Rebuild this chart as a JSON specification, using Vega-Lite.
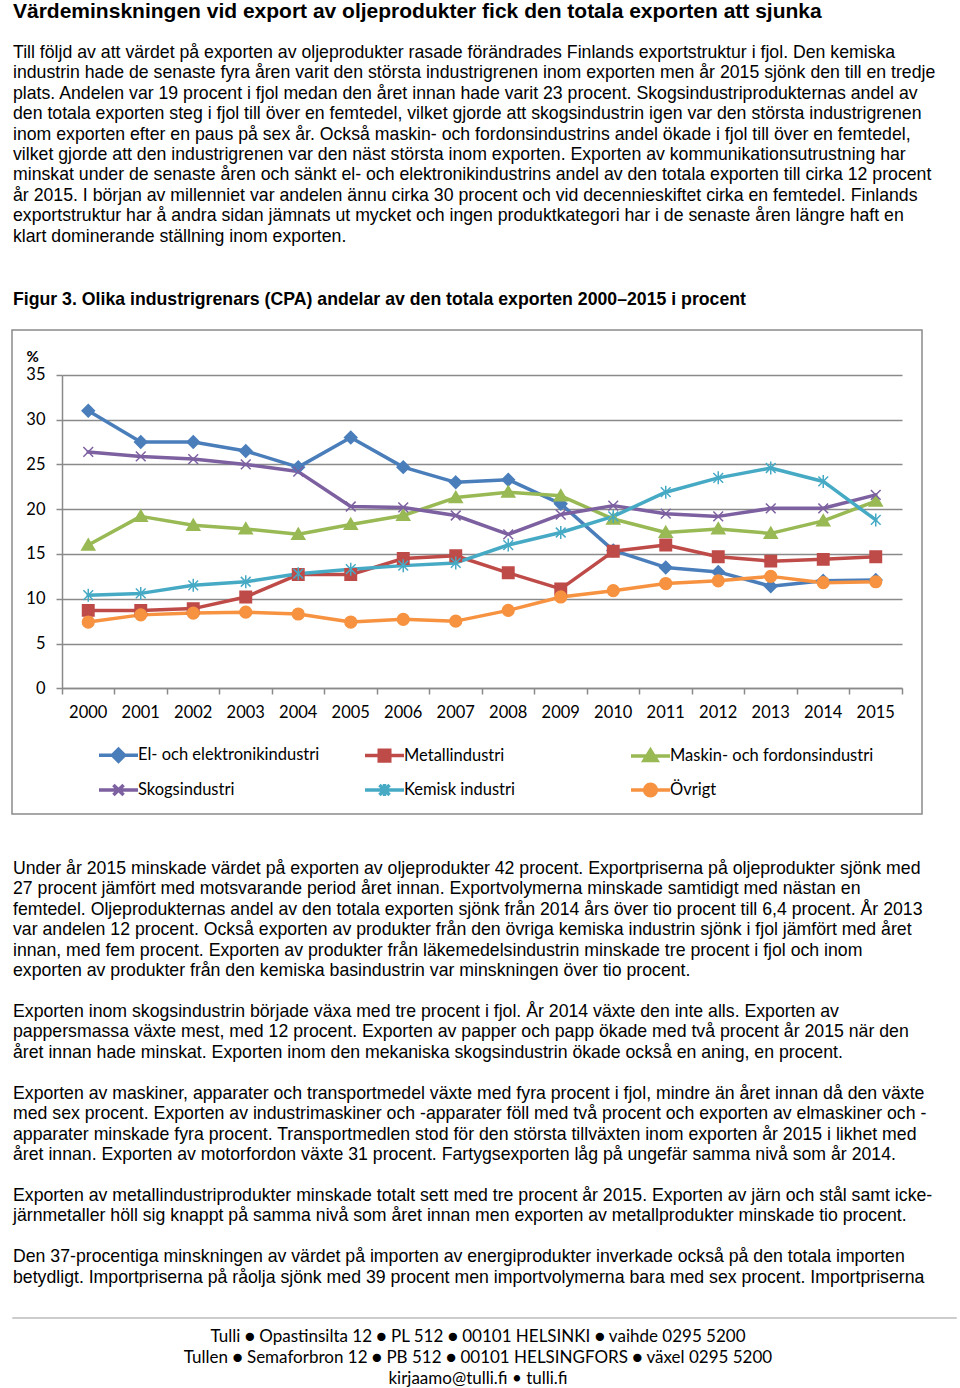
{
  "$schema": "https://vega.github.io/schema/vega-lite/v6.json",
  "background": "white",
  "padding": {"left": 11, "top": 0, "right": 0, "bottom": 0},
  "title": {
    "text": "Värdeminskningen vid export av oljeprodukter fick den totala exporten att sjunka",
    "subtitle": [
      "Till följd av att värdet på exporten av oljeprodukter rasade förändrades Finlands exportstruktur i fjol. Den kemiska",
      "industrin hade de senaste fyra åren varit den största industrigrenen inom exporten men år 2015 sjönk den till en tredje",
      "plats. Andelen var 19 procent i fjol medan den året innan hade varit 23 procent. Skogsindustriprodukternas andel av",
      "den totala exporten steg i fjol till över en femtedel, vilket gjorde att skogsindustrin igen var den största industrigrenen",
      "inom exporten efter en paus på sex år. Också maskin- och fordonsindustrins andel ökade i fjol till över en femtedel,",
      "vilket gjorde att den industrigrenen var den näst största inom exporten. Exporten av kommunikationsutrustning har",
      "minskat under de senaste åren och sänkt el- och elektronikindustrins andel av den totala exporten till cirka 12 procent",
      "år 2015. I början av millenniet var andelen ännu cirka 30 procent och vid decennieskiftet cirka en femtedel. Finlands",
      "exportstruktur har å andra sidan jämnats ut mycket och ingen produktkategori har i de senaste åren längre haft en",
      "klart dominerande ställning inom exporten."
    ],
    "anchor": "start",
    "frame": "group",
    "dx": 1,
    "font": "Liberation Sans",
    "fontSize": 21,
    "fontWeight": "bold",
    "color": "#000000",
    "subtitleFont": "Liberation Sans",
    "subtitleFontSize": 17.7,
    "subtitleFontWeight": "normal",
    "subtitleColor": "#000000",
    "subtitleLineHeight": 20.45,
    "subtitlePadding": 22,
    "offset": 45
  },
  "spacing": 44,
  "vconcat": [
    {
      "width": 910,
      "height": 484,
      "view": {"stroke": "#8a8a8a", "strokeWidth": 1.5},
      "title": {
        "text": "Figur 3. Olika industrigrenars (CPA) andelar av den totala exporten 2000–2015 i procent",
        "anchor": "start",
        "frame": "group",
        "dx": 1,
        "font": "Liberation Sans",
        "fontSize": 17.7,
        "fontWeight": "bold",
        "color": "#000000",
        "offset": 21
      },
      "data": {
        "values": [
          {"year": "2000", "industry": "El- och elektronikindustri", "share": 31.0},
          {"year": "2001", "industry": "El- och elektronikindustri", "share": 27.5},
          {"year": "2002", "industry": "El- och elektronikindustri", "share": 27.5},
          {"year": "2003", "industry": "El- och elektronikindustri", "share": 26.5},
          {"year": "2004", "industry": "El- och elektronikindustri", "share": 24.7},
          {"year": "2005", "industry": "El- och elektronikindustri", "share": 28.0},
          {"year": "2006", "industry": "El- och elektronikindustri", "share": 24.7},
          {"year": "2007", "industry": "El- och elektronikindustri", "share": 23.0},
          {"year": "2008", "industry": "El- och elektronikindustri", "share": 23.3},
          {"year": "2009", "industry": "El- och elektronikindustri", "share": 20.6},
          {"year": "2010", "industry": "El- och elektronikindustri", "share": 15.4},
          {"year": "2011", "industry": "El- och elektronikindustri", "share": 13.5},
          {"year": "2012", "industry": "El- och elektronikindustri", "share": 13.0},
          {"year": "2013", "industry": "El- och elektronikindustri", "share": 11.4},
          {"year": "2014", "industry": "El- och elektronikindustri", "share": 12.0},
          {"year": "2015", "industry": "El- och elektronikindustri", "share": 12.1},
          {"year": "2000", "industry": "Metallindustri", "share": 8.7},
          {"year": "2001", "industry": "Metallindustri", "share": 8.7},
          {"year": "2002", "industry": "Metallindustri", "share": 8.9},
          {"year": "2003", "industry": "Metallindustri", "share": 10.2},
          {"year": "2004", "industry": "Metallindustri", "share": 12.7},
          {"year": "2005", "industry": "Metallindustri", "share": 12.7},
          {"year": "2006", "industry": "Metallindustri", "share": 14.5},
          {"year": "2007", "industry": "Metallindustri", "share": 14.8},
          {"year": "2008", "industry": "Metallindustri", "share": 12.9},
          {"year": "2009", "industry": "Metallindustri", "share": 11.1},
          {"year": "2010", "industry": "Metallindustri", "share": 15.3},
          {"year": "2011", "industry": "Metallindustri", "share": 16.0},
          {"year": "2012", "industry": "Metallindustri", "share": 14.7},
          {"year": "2013", "industry": "Metallindustri", "share": 14.2},
          {"year": "2014", "industry": "Metallindustri", "share": 14.4},
          {"year": "2015", "industry": "Metallindustri", "share": 14.7},
          {"year": "2000", "industry": "Maskin- och fordonsindustri", "share": 16.0},
          {"year": "2001", "industry": "Maskin- och fordonsindustri", "share": 19.2},
          {"year": "2002", "industry": "Maskin- och fordonsindustri", "share": 18.2},
          {"year": "2003", "industry": "Maskin- och fordonsindustri", "share": 17.8},
          {"year": "2004", "industry": "Maskin- och fordonsindustri", "share": 17.2},
          {"year": "2005", "industry": "Maskin- och fordonsindustri", "share": 18.3},
          {"year": "2006", "industry": "Maskin- och fordonsindustri", "share": 19.3},
          {"year": "2007", "industry": "Maskin- och fordonsindustri", "share": 21.3},
          {"year": "2008", "industry": "Maskin- och fordonsindustri", "share": 21.9},
          {"year": "2009", "industry": "Maskin- och fordonsindustri", "share": 21.5},
          {"year": "2010", "industry": "Maskin- och fordonsindustri", "share": 18.9},
          {"year": "2011", "industry": "Maskin- och fordonsindustri", "share": 17.4},
          {"year": "2012", "industry": "Maskin- och fordonsindustri", "share": 17.8},
          {"year": "2013", "industry": "Maskin- och fordonsindustri", "share": 17.3},
          {"year": "2014", "industry": "Maskin- och fordonsindustri", "share": 18.7},
          {"year": "2015", "industry": "Maskin- och fordonsindustri", "share": 20.9},
          {"year": "2000", "industry": "Skogsindustri", "share": 26.4},
          {"year": "2001", "industry": "Skogsindustri", "share": 25.9},
          {"year": "2002", "industry": "Skogsindustri", "share": 25.6},
          {"year": "2003", "industry": "Skogsindustri", "share": 25.0},
          {"year": "2004", "industry": "Skogsindustri", "share": 24.2},
          {"year": "2005", "industry": "Skogsindustri", "share": 20.3},
          {"year": "2006", "industry": "Skogsindustri", "share": 20.2},
          {"year": "2007", "industry": "Skogsindustri", "share": 19.3},
          {"year": "2008", "industry": "Skogsindustri", "share": 17.2},
          {"year": "2009", "industry": "Skogsindustri", "share": 19.4},
          {"year": "2010", "industry": "Skogsindustri", "share": 20.4},
          {"year": "2011", "industry": "Skogsindustri", "share": 19.5},
          {"year": "2012", "industry": "Skogsindustri", "share": 19.2},
          {"year": "2013", "industry": "Skogsindustri", "share": 20.1},
          {"year": "2014", "industry": "Skogsindustri", "share": 20.1},
          {"year": "2015", "industry": "Skogsindustri", "share": 21.6},
          {"year": "2000", "industry": "Kemisk industri", "share": 10.4},
          {"year": "2001", "industry": "Kemisk industri", "share": 10.6},
          {"year": "2002", "industry": "Kemisk industri", "share": 11.5},
          {"year": "2003", "industry": "Kemisk industri", "share": 11.9},
          {"year": "2004", "industry": "Kemisk industri", "share": 12.8},
          {"year": "2005", "industry": "Kemisk industri", "share": 13.3},
          {"year": "2006", "industry": "Kemisk industri", "share": 13.7},
          {"year": "2007", "industry": "Kemisk industri", "share": 14.0},
          {"year": "2008", "industry": "Kemisk industri", "share": 16.0},
          {"year": "2009", "industry": "Kemisk industri", "share": 17.4},
          {"year": "2010", "industry": "Kemisk industri", "share": 19.2},
          {"year": "2011", "industry": "Kemisk industri", "share": 21.9},
          {"year": "2012", "industry": "Kemisk industri", "share": 23.5},
          {"year": "2013", "industry": "Kemisk industri", "share": 24.6},
          {"year": "2014", "industry": "Kemisk industri", "share": 23.1},
          {"year": "2015", "industry": "Kemisk industri", "share": 18.8},
          {"year": "2000", "industry": "Övrigt", "share": 7.4},
          {"year": "2001", "industry": "Övrigt", "share": 8.2},
          {"year": "2002", "industry": "Övrigt", "share": 8.4},
          {"year": "2003", "industry": "Övrigt", "share": 8.5},
          {"year": "2004", "industry": "Övrigt", "share": 8.3},
          {"year": "2005", "industry": "Övrigt", "share": 7.4},
          {"year": "2006", "industry": "Övrigt", "share": 7.7},
          {"year": "2007", "industry": "Övrigt", "share": 7.5},
          {"year": "2008", "industry": "Övrigt", "share": 8.7},
          {"year": "2009", "industry": "Övrigt", "share": 10.2},
          {"year": "2010", "industry": "Övrigt", "share": 10.9},
          {"year": "2011", "industry": "Övrigt", "share": 11.7},
          {"year": "2012", "industry": "Övrigt", "share": 12.0},
          {"year": "2013", "industry": "Övrigt", "share": 12.5},
          {"year": "2014", "industry": "Övrigt", "share": 11.8},
          {"year": "2015", "industry": "Övrigt", "share": 11.9}
        ]
      },
      "encoding": {
        "x": {
          "field": "year",
          "type": "ordinal",
          "sort": null,
          "scale": {"type": "band", "range": [50, 890], "paddingInner": 0, "paddingOuter": 0},
          "axis": {
            "orient": "bottom",
            "offset": -126,
            "title": null,
            "bandPosition": 1,
            "tickExtra": true,
            "grid": false,
            "domainColor": "#8a8a8a",
            "domainWidth": 1.5,
            "tickColor": "#8a8a8a",
            "tickWidth": 1.5,
            "tickSize": 6,
            "labelFont": "Lato",
            "labelFontSize": 16.5,
            "labelColor": "#000000",
            "labelPadding": 10,
            "labelAngle": 0
          }
        },
        "y": {
          "field": "share",
          "type": "quantitative",
          "scale": {"domain": [0, 35], "range": [358.3, 44.9], "nice": false},
          "axis": {
            "orient": "left",
            "offset": -50,
            "values": [0, 5, 10, 15, 20, 25, 30, 35],
            "title": "%",
            "titleAngle": 0,
            "titleAlign": "left",
            "titleBaseline": "middle",
            "titleX": -36,
            "titleY": 26.5,
            "titleFont": "Lato",
            "titleFontSize": 15,
            "titleFontWeight": "bold",
            "titleColor": "#000000",
            "grid": true,
            "gridColor": "#8a8a8a",
            "gridWidth": 1.5,
            "domainColor": "#8a8a8a",
            "domainWidth": 1.5,
            "tickColor": "#8a8a8a",
            "tickWidth": 1.5,
            "tickSize": 6,
            "labelFont": "Lato",
            "labelFontSize": 16.5,
            "labelColor": "#000000",
            "labelPadding": 11
          }
        },
        "color": {
          "field": "industry",
          "type": "nominal",
          "sort": null,
          "scale": {
            "domain": ["El- och elektronikindustri", "Metallindustri", "Maskin- och fordonsindustri", "Skogsindustri", "Kemisk industri", "Övrigt"],
            "range": ["#4A7EBB", "#BE4B48", "#98B954", "#7D60A0", "#46AAC5", "#F69240"]
          },
          "legend": {
            "orient": "none",
            "legendX": 85,
            "legendY": 403.5,
            "columns": 3,
            "direction": "horizontal",
            "gridAlign": "all",
            "columnPadding": 16,
            "rowPadding": -1.6,
            "title": null,
            "padding": 0,
            "symbolSize": 1521,
            "symbolStrokeWidth": 3.5,
            "labelFont": "Lato",
            "labelFontSize": 16.5,
            "labelColor": "#000000",
            "labelOffset": -2,
            "labelLimit": 400,
            "encode": {
              "symbols": {
                "update": {
                  "shape": {"signal": "({'El- och elektronikindustri':'M-1,0H1M0,-0.31L0.31,0L0,0.31L-0.31,0Z','Metallindustri':'M-1,0H1M-0.27,-0.27H0.27V0.27H-0.27Z','Maskin- och fordonsindustri':'M-1,0H1M0,-0.3L0.33,0.24H-0.33Z','Skogsindustri':'M-1,0H1M-0.26,-0.26L0.26,0.26M-0.26,0.26L0.26,-0.26','Kemisk industri':'M-1,0H1M-0.26,-0.26L0.26,0.26M-0.26,0.26L0.26,-0.26M0,-0.31V0.31','Övrigt':'M-1,0H1M0.3,0A0.3,0.3 0 1,1 -0.3,0A0.3,0.3 0 1,1 0.3,0Z'})[datum.value]"},
                  "fill": {"signal": "({'El- och elektronikindustri':'#4A7EBB','Metallindustri':'#BE4B48','Maskin- och fordonsindustri':'#98B954','Skogsindustri':'#7D60A0','Kemisk industri':'#46AAC5','Övrigt':'#F69240'})[datum.value]"},
                  "stroke": {"signal": "({'El- och elektronikindustri':'#4A7EBB','Metallindustri':'#BE4B48','Maskin- och fordonsindustri':'#98B954','Skogsindustri':'#7D60A0','Kemisk industri':'#46AAC5','Övrigt':'#F69240'})[datum.value]"},
                  "opacity": {"value": 1},
                  "fillOpacity": {"value": 1},
                  "strokeOpacity": {"value": 1}
                }
              }
            }
          }
        }
      },
      "layer": [
        {
          "mark": {"type": "line", "strokeWidth": 3.5, "strokeJoin": "round", "strokeCap": "round"}
        },
        {
          "mark": {"type": "point", "filled": true, "size": 169, "strokeWidth": 1.5, "opacity": 1},
          "encoding": {
            "shape": {
              "field": "industry",
              "type": "nominal",
              "sort": null,
              "scale": {
                "domain": ["Övrigt", "Kemisk industri", "Skogsindustri", "Maskin- och fordonsindustri", "Metallindustri", "El- och elektronikindustri"],
                "range": ["M0.9,0A0.9,0.9 0 1,1 -0.9,0A0.9,0.9 0 1,1 0.9,0Z", "M-0.75,-0.75L0.75,0.75M-0.75,0.75L0.75,-0.75M0,-1V1", "M-0.75,-0.75L0.75,0.75M-0.75,0.75L0.75,-0.75", "M0,-0.95L1,0.75H-1Z", "M-0.88,-0.88H0.88V0.88H-0.88Z", "M0,-0.95L0.95,0L0,0.95L-0.95,0Z"]
              },
              "legend": null
            },
            "stroke": {
              "field": "industry",
              "type": "nominal",
              "sort": null,
              "scale": {
                "domain": ["Övrigt", "Kemisk industri", "Skogsindustri", "Maskin- och fordonsindustri", "Metallindustri", "El- och elektronikindustri"],
                "range": ["#F69240", "#46AAC5", "#7D60A0", "#98B954", "#BE4B48", "#4A7EBB"]
              },
              "legend": null
            }
          }
        }
      ]
    },
    {
      "spacing": 4,
      "vconcat": [
        {
          "width": 944,
          "height": 1,
          "view": {"stroke": "#cccccc", "strokeWidth": 1},
          "data": {"values": [{}]},
          "mark": {"type": "text"},
          "encoding": {"text": {"value": ""}},
          "title": {
            "text": [
              "Under år 2015 minskade värdet på exporten av oljeprodukter 42 procent. Exportpriserna på oljeprodukter sjönk med",
              "27 procent jämfört med motsvarande period året innan. Exportvolymerna minskade samtidigt med nästan en",
              "femtedel. Oljeprodukternas andel av den totala exporten sjönk från 2014 års över tio procent till 6,4 procent. År 2013",
              "var andelen 12 procent. Också exporten av produkter från den övriga kemiska industrin sjönk i fjol jämfört med året",
              "innan, med fem procent. Exporten av produkter från läkemedelsindustrin minskade tre procent i fjol och inom",
              "exporten av produkter från den kemiska basindustrin var minskningen över tio procent.",
              "\u200b",
              "Exporten inom skogsindustrin började växa med tre procent i fjol. År 2014 växte den inte alls. Exporten av",
              "pappersmassa växte mest, med 12 procent. Exporten av papper och papp ökade med två procent år 2015 när den",
              "året innan hade minskat. Exporten inom den mekaniska skogsindustrin ökade också en aning, en procent.",
              "\u200b",
              "Exporten av maskiner, apparater och transportmedel växte med fyra procent i fjol, mindre än året innan då den växte",
              "med sex procent. Exporten av industrimaskiner och -apparater föll med två procent och exporten av elmaskiner och -",
              "apparater minskade fyra procent. Transportmedlen stod för den största tillväxten inom exporten år 2015 i likhet med",
              "året innan. Exporten av motorfordon växte 31 procent. Fartygsexporten låg på ungefär samma nivå som år 2014.",
              "\u200b",
              "Exporten av metallindustriprodukter minskade totalt sett med tre procent år 2015. Exporten av järn och stål samt icke-",
              "järnmetaller höll sig knappt på samma nivå som året innan men exporten av metallprodukter minskade tio procent.",
              "\u200b",
              "Den 37-procentiga minskningen av värdet på importen av energiprodukter inverkade också på den totala importen",
              "betydligt. Importpriserna på råolja sjönk med 39 procent men importvolymerna bara med sex procent. Importpriserna"
            ],
            "anchor": "start",
            "frame": "group",
            "dx": 1,
            "font": "Liberation Sans",
            "fontSize": 17.7,
            "fontWeight": "normal",
            "lineHeight": 20.45,
            "color": "#000000",
            "offset": 25
          }
        },
        {
          "width": 944,
          "height": 1,
          "data": {"values": [{}]},
          "mark": {"type": "text"},
          "encoding": {"text": {"value": ""}},
          "title": {
            "text": [
              "Tulli ● Opastinsilta 12 ● PL 512 ● 00101 HELSINKI ● vaihde 0295 5200",
              "Tullen ● Semaforbron 12 ● PB 512 ● 00101 HELSINGFORS ● växel 0295 5200",
              "kirjaamo@tulli.fi • tulli.fi"
            ],
            "anchor": "middle",
            "frame": "group",
            "dx": -6,
            "font": "Lato",
            "fontSize": 17,
            "fontWeight": "normal",
            "lineHeight": 21,
            "color": "#000000",
            "offset": 0
          }
        }
      ]
    }
  ],
  "config": {"view": {"stroke": null}}
}
